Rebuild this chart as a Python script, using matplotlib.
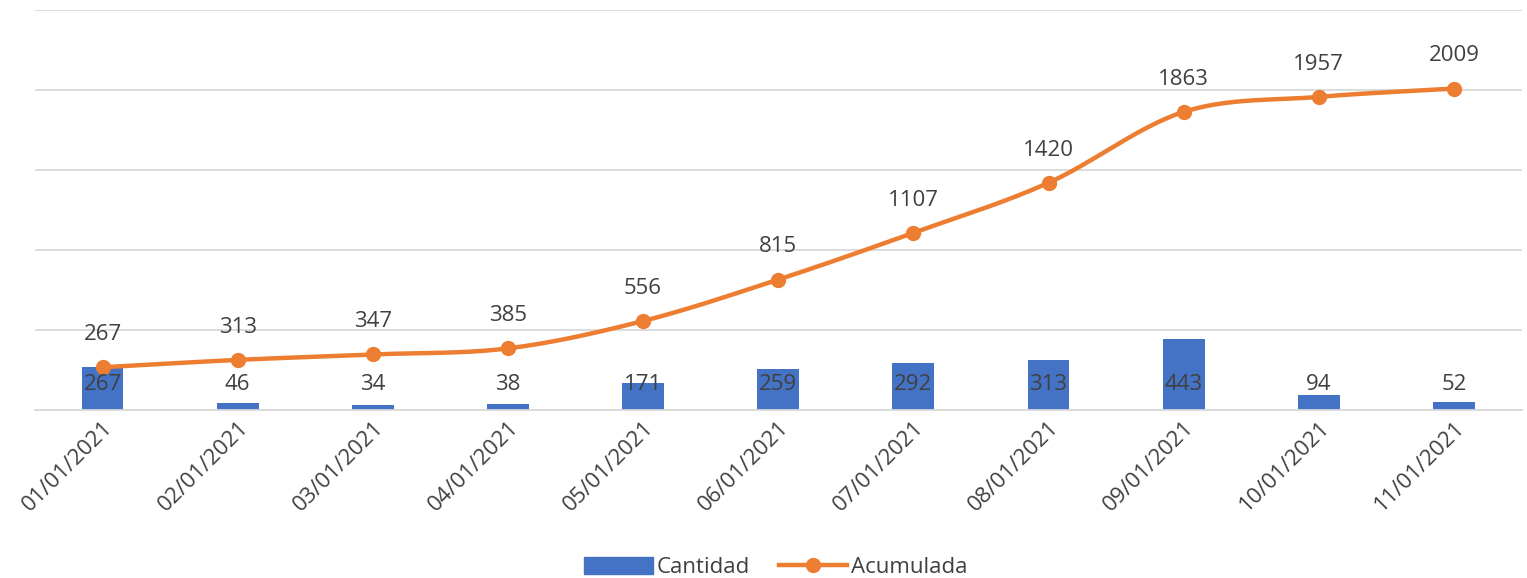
import numpy as np
import matplotlib.pyplot as plt
from matplotlib.lines import Line2D
from matplotlib.patches import Patch

fechas = ['01/01/2021', '02/01/2021', '03/01/2021', '04/01/2021', '05/01/2021',
          '06/01/2021', '07/01/2021', '08/01/2021', '09/01/2021', '10/01/2021',
          '11/01/2021']
cantidad = [267, 46, 34, 38, 171, 259, 292, 313, 443, 94, 52]
acumulada = [267, 313, 347, 385, 556, 815, 1107, 1420, 1863, 1957, 2009]

BLUE = '#4472C4'
ORANGE = '#ED7D31'
TXT = '#404040'
GRID = '#D9D9D9'
FONT = 'Open Sans'
FS = 16


def smooth(x, y, n=30):
    # catmull-rom path through the points, like excel's smoothed line
    x = np.asarray(x, float)
    y = np.asarray(y, float)
    px = np.concatenate([[2 * x[0] - x[1]], x, [2 * x[-1] - x[-2]]])
    py = np.concatenate([[2 * y[0] - y[1]], y, [2 * y[-1] - y[-2]]])
    xs, ys = [], []
    t = np.linspace(0, 1, n)
    for i in range(1, len(px) - 2):
        for p, out in ((px, xs), (py, ys)):
            p0, p1, p2, p3 = p[i - 1], p[i], p[i + 1], p[i + 2]
            out.extend(0.5 * (2 * p1 + (-p0 + p2) * t
                              + (2 * p0 - 5 * p1 + 4 * p2 - p3) * t ** 2
                              + (-p0 + 3 * p1 - 3 * p2 + p3) * t ** 3))
    return xs, ys


fig = plt.figure(figsize=(15.27, 5.78), dpi=100)
ax = fig.add_axes([0.0229, 0.2907, 0.9735, 0.692])

x = np.arange(len(fechas))
ax.bar(x, cantidad, width=0.31, color=BLUE, zorder=2)
sx, sy = smooth(x, acumulada)
ax.plot(sx, sy, color=ORANGE, lw=3.2, zorder=3, solid_capstyle='round')
ax.plot(x, acumulada, 'o', color=ORANGE, ms=10, zorder=4)

for xi, v in zip(x, cantidad):
    ax.annotate(str(v), (xi, 0), xytext=(0, 18.5), textcoords='offset points',
                ha='center', va='center', fontsize=FS, color=TXT,
                family=FONT, zorder=5)
for xi, v in zip(x, acumulada):
    ax.annotate(str(v), (xi, v), xytext=(0, 23.5), textcoords='offset points',
                ha='center', va='center', fontsize=FS, color=TXT,
                family=FONT, zorder=5)

ax.set_xlim(-0.5, len(fechas) - 0.5)
ax.set_ylim(0, 2500)
ax.set_yticks(np.arange(0, 2501, 500))
ax.yaxis.grid(True, color=GRID, lw=1.3)
ax.set_axisbelow(True)
ax.tick_params(axis='y', left=False, labelleft=False)
ax.tick_params(axis='x', length=0, pad=5)
ax.set_xticks(x)
ax.set_xticklabels(fechas, rotation=45, ha='right', rotation_mode='anchor',
                   fontsize=FS, color=TXT, family=FONT)
for s in ['top', 'right', 'left']:
    ax.spines[s].set_visible(False)
ax.spines['bottom'].set_color(GRID)
ax.spines['bottom'].set_linewidth(1.3)

handles = [Patch(color=BLUE, label='Cantidad'),
           Line2D([0], [0], color=ORANGE, lw=3.2, marker='o', ms=10,
                  label='Acumulada')]
fig.legend(handles=handles, loc='center', bbox_to_anchor=(0.508, 0.018),
           ncol=2, frameon=False, handlelength=3.1, handleheight=0.8,
           handletextpad=0.15, columnspacing=1.3,
           prop={'family': FONT, 'size': FS}, labelcolor=TXT)

fig.savefig('out.png', dpi=100)
